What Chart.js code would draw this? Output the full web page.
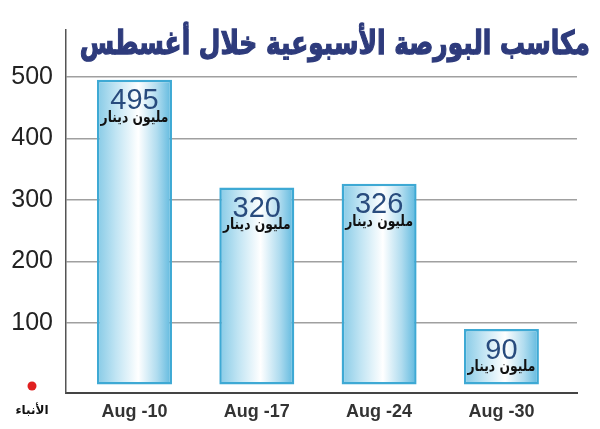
<!DOCTYPE html>
<html>
<head>
<meta charset="utf-8">
<script src="https://cdn.jsdelivr.net/npm/chart.js@4/dist/chart.umd.min.js"></script>
<style>
html,body{margin:0;padding:0;background:#fff;}
#wrap{position:relative;width:600px;height:429px;}
canvas{display:block;}
</style>
</head>
<body>
<div id="wrap"><canvas id="c" width="600" height="429"></canvas></div>
<script>
const titleText = 'مكاسب البورصة الأسبوعية خلال أغسطس';
const categories = ['Aug -10', 'Aug -17', 'Aug -24', 'Aug -30'];
const values = [495, 320, 326, 90];
const unitLabel = 'مليون دينار';
const yTicks = [100, 200, 300, 400, 500];
const logoText = 'الأنباء';

const BAR_PCT = 0.613;

function barGradient(ctx) {
  const chart = ctx.chart;
  const xs = chart.scales.x;
  if (!xs || !chart.chartArea) return '#bfe3f2';
  const i = ctx.dataIndex;
  const c = xs.getPixelForValue(i);
  const half = (xs.getPixelForValue(1) - xs.getPixelForValue(0)) * BAR_PCT / 2;
  const g = chart.ctx.createLinearGradient(c - half, 0, c + half, 0);
  g.addColorStop(0, '#86cae6');
  g.addColorStop(0.25, '#c0e4f3');
  g.addColorStop(0.55, '#ffffff');
  g.addColorStop(0.8, '#b0dcef');
  g.addColorStop(1, '#5db8de');
  return g;
}

function fitFont(ctx, text, weight, family, targetW) {
  ctx.font = weight + ' 100px ' + family;
  const w = ctx.measureText(text).width;
  return 100 * targetW / w;
}

const labelPlugin = {
  id: 'labels',
  afterDatasetsDraw(chart) {
    const ctx = chart.ctx;
    const meta = chart.getDatasetMeta(0);
    ctx.save();
    ctx.textAlign = 'center';
    meta.data.forEach((el, i) => {
      ctx.fillStyle = '#284b7d';
      ctx.font = '29px "Liberation Sans", Arial, sans-serif';
      ctx.textBaseline = 'top';
      ctx.fillText(String(values[i]), el.x, el.y + 7);
      const fs = fitFont(ctx, unitLabel, 'bold', '"DejaVu Sans"', 68);
      ctx.font = 'bold ' + fs.toFixed(1) + 'px "DejaVu Sans"';
      ctx.fillStyle = '#111';
      ctx.textBaseline = 'middle';
      ctx.save();
      ctx.translate(el.x, el.y + 38);
      ctx.scale(1, 1.25);
      ctx.fillText(unitLabel, 0, 0);
      ctx.restore();
    });
    ctx.restore();
  },
  afterDraw(chart) {
    const ctx = chart.ctx;
    ctx.save();
    const fs = fitFont(ctx, titleText, 'bold', '"DejaVu Sans"', 510);
    ctx.font = 'bold ' + fs.toFixed(1) + 'px "DejaVu Sans"';
    ctx.fillStyle = '#2e3b7c';
    ctx.strokeStyle = '#2e3b7c';
    ctx.lineWidth = 1;
    ctx.textAlign = 'right';
    ctx.textBaseline = 'middle';
    ctx.translate(590, 46);
    ctx.scale(1, 1.3);
    ctx.fillText(titleText, 0, 0);
    ctx.strokeText(titleText, 0, 0);
    ctx.restore();
    ctx.save();
    ctx.fillStyle = '#e02020';
    ctx.beginPath();
    ctx.arc(32, 386, 4.5, 0, Math.PI * 2);
    ctx.fill();
    ctx.fillStyle = '#111';
    ctx.textAlign = 'center';
    ctx.textBaseline = 'middle';
    ctx.font = 'bold 12px "DejaVu Sans"';
    ctx.fillText(logoText, 32, 411);
    ctx.restore();
  }
};

new Chart(document.getElementById('c'), {
  type: 'bar',
  data: {
    datasets: [{
      data: values.map((v, i) => ({ x: i, y: v })),
      backgroundColor: barGradient,
      borderColor: '#3ea9d4',
      borderWidth: 2.5,
      borderSkipped: false,
      categoryPercentage: 1,
      barPercentage: BAR_PCT
    }]
  },
  options: {
    responsive: false,
    animation: false,
    events: [],
    layout: { padding: { top: 30, right: 23, left: 0, bottom: 0 } },
    plugins: { legend: { display: false }, tooltip: { enabled: false }, title: { display: false } },
    scales: {
      x: {
        type: 'linear',
        offset: false,
        min: -0.56,
        max: 3.618,
        grid: { display: false, drawTicks: false, offset: false },
        border: { display: true, color: '#444', width: 2 },
        afterFit: s => { s.height = 36; },
        afterBuildTicks: s => { s.ticks = categories.map((_, i) => ({ value: i })); },
        ticks: {
          autoSkip: false,
          maxRotation: 0,
          padding: 8,
          color: '#333',
          font: { family: '"Liberation Sans", Arial, sans-serif', size: 18, weight: 'bold' },
          callback: v => categories[v] ?? ''
        }
      },
      y: {
        min: -14,
        max: 576,
        afterFit: s => { s.width = 66; },
        afterBuildTicks: s => { s.ticks = yTicks.map(v => ({ value: v })); },
        grid: { color: '#a0a0a0', lineWidth: 1.5, drawTicks: false },
        border: { display: true, color: '#555', width: 1.5 },
        ticks: {
          padding: 13,
          color: '#222',
          font: { family: '"Liberation Sans", Arial, sans-serif', size: 25 }
        }
      }
    }
  },
  plugins: [labelPlugin]
});
</script>
</body>
</html>
